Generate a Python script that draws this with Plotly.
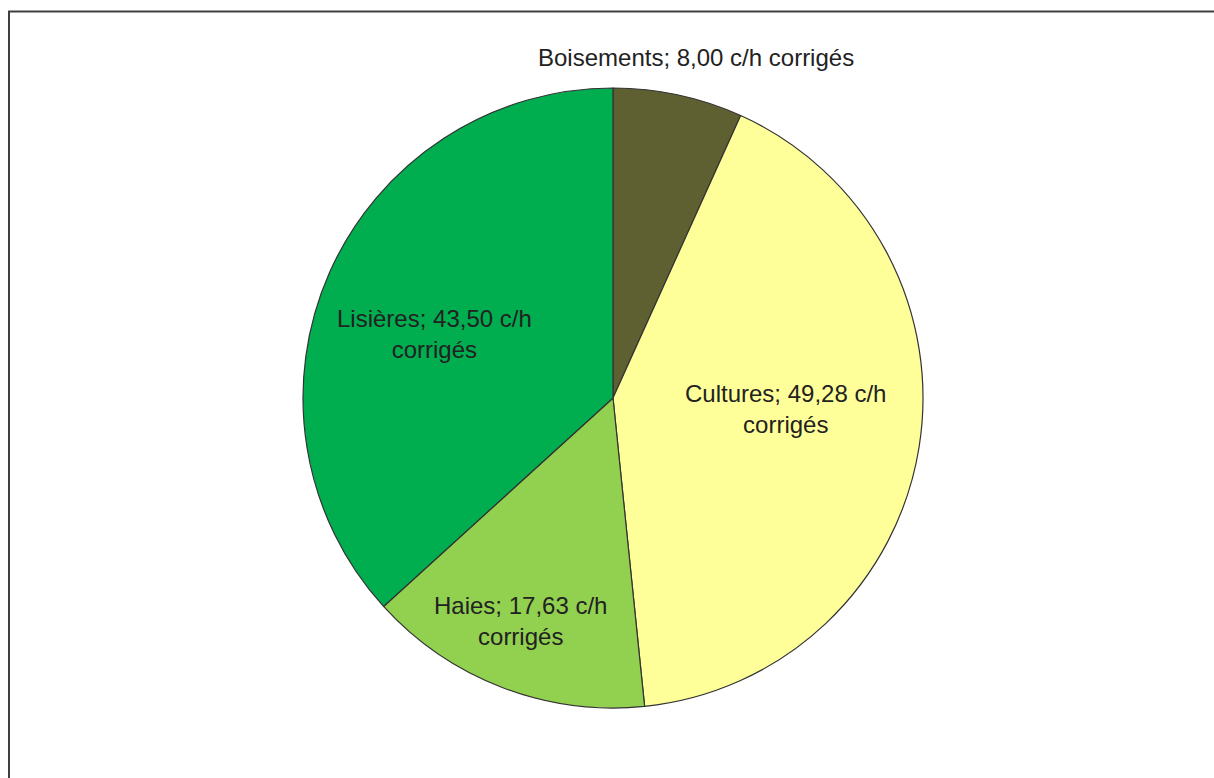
import plotly.graph_objects as go

# Corrected contacts per hour by habitat type
habitats = ["Boisements", "Cultures", "Haies", "Lisières"]
contacts = [8.00, 49.28, 17.63, 43.50]
colors = ["#5F6032", "#FFFF99", "#92D050", "#00AD4F"]

W, H = 1214, 778


def fmt(v):
    return f"{v:.2f}".replace(".", ",")


# Label texts (line breaks as laid out on the chart) and their pixel anchors
label_texts = [
    f"{habitats[0]}; {fmt(contacts[0])} c/h corrigés",
    f"{habitats[1]}; {fmt(contacts[1])} c/h<br>corrigés",
    f"{habitats[2]}; {fmt(contacts[2])} c/h<br>corrigés",
    f"{habitats[3]}; {fmt(contacts[3])} c/h<br>corrigés",
]
label_px = [(696, 57), (785, 409), (520, 621), (434, 334)]

cx, cy, r = 613, 398, 310

fig = go.Figure(
    go.Pie(
        labels=habitats,
        values=contacts,
        sort=False,
        direction="clockwise",
        rotation=0,
        marker=dict(colors=colors, line=dict(color="#333333", width=1.2)),
        textinfo="none",
        hoverinfo="label+value",
        showlegend=False,
        domain=dict(
            x=[(cx - r) / W, (cx + r) / W],
            y=[1 - (cy + r) / H, 1 - (cy - r) / H],
        ),
    )
)

for txt, (px, py) in zip(label_texts, label_px):
    fig.add_annotation(
        x=px / W,
        y=1 - py / H,
        xref="paper",
        yref="paper",
        text=txt,
        showarrow=False,
        align="center",
        xanchor="center",
        yanchor="middle",
        font=dict(family="Liberation Sans, Arial, sans-serif", size=24, color="#222222"),
    )

# Chart frame
fig.add_shape(
    type="rect",
    xref="paper",
    yref="paper",
    x0=9 / W,
    x1=1.02,
    y0=-0.02,
    y1=1 - 11.5 / H,
    line=dict(color="#404040", width=2),
    fillcolor="rgba(0,0,0,0)",
)

fig.update_layout(
    width=W,
    height=H,
    margin=dict(l=0, r=0, t=0, b=0),
    paper_bgcolor="white",
    plot_bgcolor="white",
    separators=", ",
)

fig.write_html("out.html")
